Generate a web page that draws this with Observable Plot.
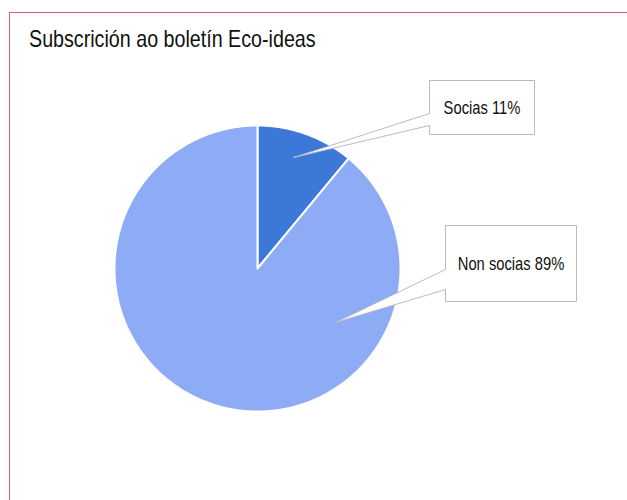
<!DOCTYPE html>
<html>
<head>
<meta charset="utf-8">
<script src="https://cdn.jsdelivr.net/npm/d3@7"></script>
<script src="https://cdn.jsdelivr.net/npm/@observablehq/plot@0.6"></script>
<style>
  html, body { margin: 0; padding: 0; background: #fff; }
  #wrap { position: relative; width: 627px; height: 500px; overflow: hidden; }
  #frame { position: absolute; left: 9px; top: 12px; width: 700px; height: 600px; border-left: 1.5px solid #e0509c; border-top: 1.5px solid #e0509c; box-sizing: border-box; }
  #title { position: absolute; left: 29px; top: 24px; font-family: "Liberation Sans", Arial, sans-serif; font-size: 24px; color: #111; white-space: nowrap; line-height: 30px; transform: scaleX(0.82); transform-origin: 0 0; }
  #chart { position: absolute; left: 0; top: 0; }
</style>
</head>
<body>
<div id="wrap">
  <div id="chart"></div>
  <div id="frame"></div>
  <div id="title">Subscrición ao boletín Eco-ideas</div>
</div>
<script>
// Data
const categories = ["Socias", "Non socias"];
const values = [11, 89];
const colors = ["#3c78d8", "#8eabf5"];

// Layout (pixels)
const W = 627, H = 500;
const cx = 257, cy = 268, R = 143;
// Callout boxes: [left, top, right, bottom], pointer base y's, tip
const callouts = [
  {box: [429, 80, 534, 134], base: [113, 125], tip: [293, 157]},
  {box: [445, 225, 576, 301], base: [269, 289], tip: [335, 322]}
];

const pie = d3.pie().sort(null).value(d => d)(values);

// Slice polygons
const slicePts = [];
pie.forEach((p, i) => {
  const n = Math.max(2, Math.ceil((p.endAngle - p.startAngle) / 0.01));
  slicePts.push({k: i, x: cx, y: cy});
  for (let j = 0; j <= n; j++) {
    const a = p.startAngle + (p.endAngle - p.startAngle) * j / n;
    slicePts.push({k: i, x: cx + R * Math.sin(a), y: cy - R * Math.cos(a)});
  }
  slicePts.push({k: i, x: cx, y: cy});
});

// Callout polygons
const calloutPts = [];
callouts.forEach((c, i) => {
  const [l, t, r, b] = c.box;
  const pts = [[l, t], [r, t], [r, b], [l, b], [l, c.base[1]], c.tip, [l, c.base[0]], [l, t]];
  pts.forEach(([x, y]) => calloutPts.push({k: i, x, y}));
});

const labels = categories.map((c, i) => {
  const [l, t, r, b] = callouts[i].box;
  return {text: `${c} ${values[i]}%`, x: (l + r) / 2, y: (t + b) / 2 + 1};
});

const chart = Plot.plot({
  width: W,
  height: H,
  margin: 0,
  x: {domain: [0, W], range: [0, W], axis: null},
  y: {domain: [0, H], range: [0, H], axis: null},
  style: {background: "transparent"},
  marks: [
    Plot.line(slicePts, {x: "x", y: "y", z: "k", fill: d => colors[d.k], stroke: "#ffffff", strokeWidth: 2, strokeLinejoin: "miter", curve: "linear"}),
    Plot.line(calloutPts, {x: "x", y: "y", z: "k", fill: "#ffffff", stroke: "#b5bcc4", strokeWidth: 1, curve: "linear"}),
    Plot.text(labels, {x: "x", y: "y", text: "text", fontSize: 18, fill: "#111", fontFamily: "Liberation Sans, Arial, sans-serif", textAnchor: "middle", lineAnchor: "middle"})
  ]
});
// Condense label glyphs horizontally to match the narrow typeface of the reference
d3.select(chart).selectAll("text").each(function () {
  const t = this.getAttribute("transform") || "";
  this.setAttribute("transform", t + " scale(0.82,1)");
});
document.getElementById("chart").appendChild(chart);
</script>
</body>
</html>
